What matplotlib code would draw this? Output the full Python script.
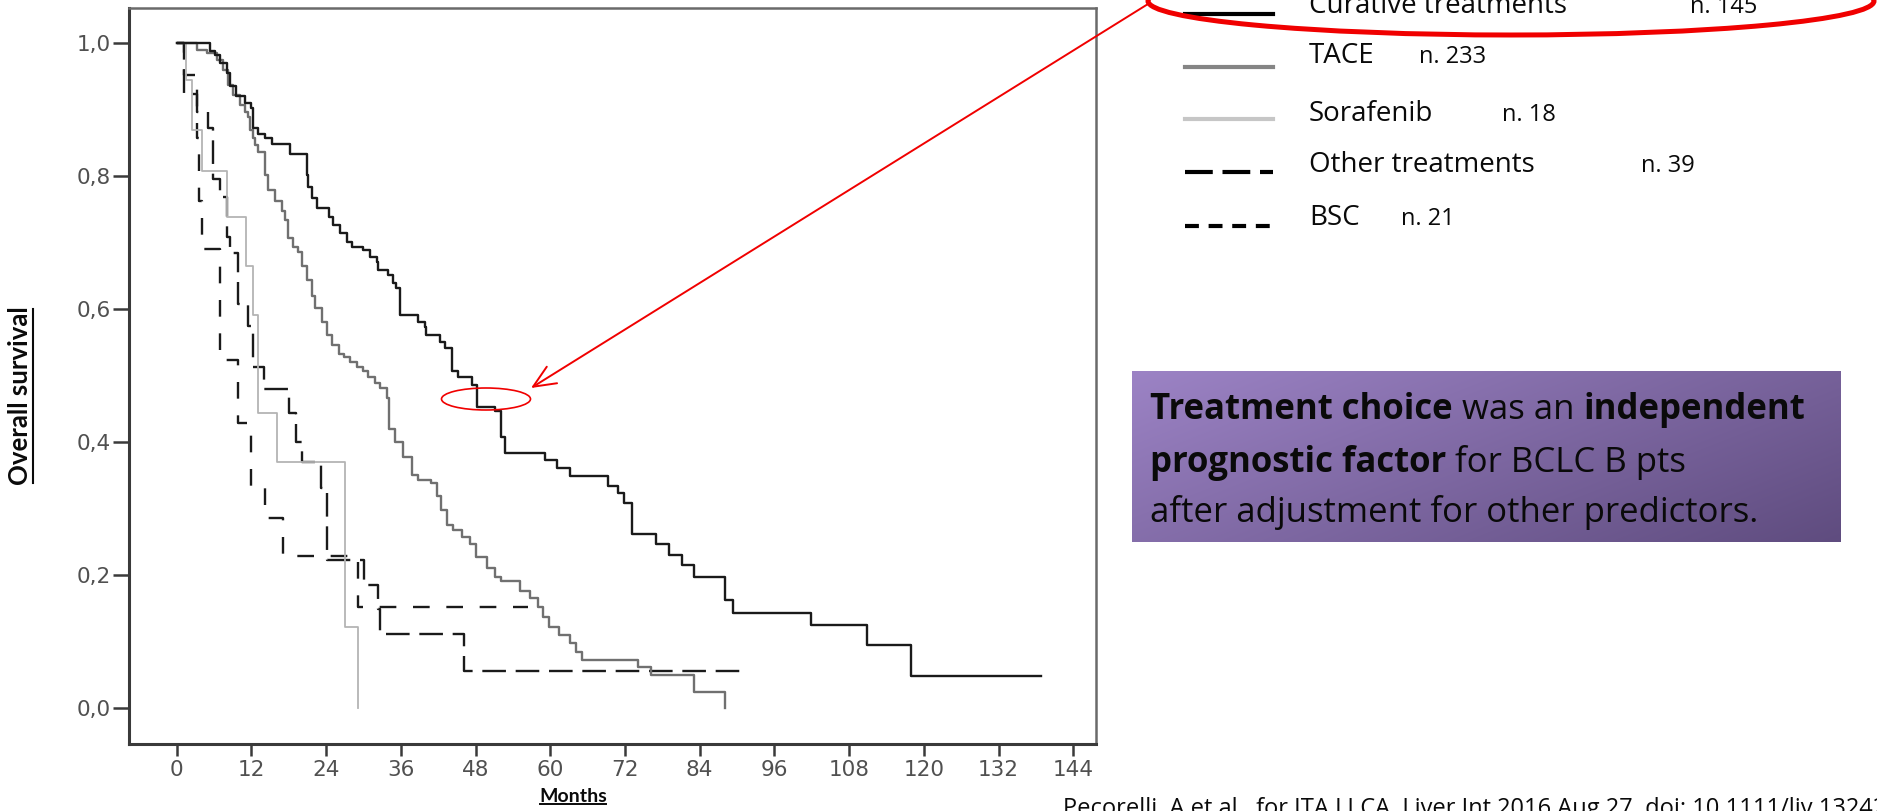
import matplotlib
matplotlib.use('Agg')
import matplotlib.pyplot as plt
import numpy as np
from matplotlib.patches import Ellipse
from matplotlib.lines import Line2D
from matplotlib.transforms import IdentityTransform

plt.rcParams['lines.scale_dashes'] = False

# ---------------- data (months, survival) ----------------
curative_t = [0, 5.4, 6.2, 7.0, 8.0, 8.6, 9.6, 11.0, 12.0, 12.3, 13.1, 14.2, 15.3, 18.2,
              20.9, 21.1, 21.7, 22.5, 24.4, 25.1, 26.2, 27.3, 28.1, 30.0, 31.0, 32.1, 32.4,
              34.0, 34.8, 35.3, 35.9, 38.8, 39.9, 40.1, 42.3, 43.1, 44.2, 45.2, 47.4, 48.2,
              51.1, 52.1, 52.8, 59.1, 61.1, 63.2, 69.2, 70.9, 71.8, 73.2, 77.0, 79.1, 81.1,
              83.1, 88.1, 89.3, 101.9, 110.9, 118.0]
curative_s = [1.0, 0.989, 0.982, 0.970, 0.955, 0.935, 0.920, 0.910, 0.902, 0.872, 0.864, 0.857,
              0.849, 0.834, 0.802, 0.784, 0.767, 0.752, 0.739, 0.727, 0.714, 0.701, 0.694,
              0.689, 0.679, 0.671, 0.659, 0.651, 0.639, 0.631, 0.591, 0.581, 0.573, 0.561,
              0.551, 0.541, 0.506, 0.498, 0.486, 0.453, 0.446, 0.408, 0.383, 0.373, 0.360,
              0.348, 0.333, 0.323, 0.308, 0.262, 0.247, 0.230, 0.215, 0.197, 0.162, 0.143,
              0.124, 0.094, 0.047]
curative_end = 138.8

tace_t = [0, 3.2, 4.8, 6.4, 7.5, 8.3, 9.1, 10.2, 11.0, 11.5, 11.8, 12.3, 12.6, 13.1, 14.2,
          14.7, 15.8, 16.9, 17.4, 17.9, 18.7, 19.5, 20.1, 20.9, 21.7, 22.2, 23.3, 24.1, 24.9,
          26.0, 26.8, 27.8, 28.9, 30.0, 30.8, 31.8, 32.7, 33.7, 34.1, 35.1, 36.4, 37.8, 38.8,
          40.8, 41.8, 42.4, 43.4, 44.4, 45.8, 47.1, 48.1, 49.8, 51.1, 52.1, 55.1, 56.7, 58.1,
          58.8, 59.8, 61.4, 63.1, 64.1, 65.1, 74.1, 76.1, 83.1, 88.1]
tace_s = [1.0, 0.990, 0.985, 0.975, 0.960, 0.937, 0.922, 0.907, 0.897, 0.889, 0.870, 0.857,
          0.847, 0.837, 0.802, 0.779, 0.762, 0.747, 0.734, 0.707, 0.694, 0.686, 0.664, 0.644,
          0.619, 0.601, 0.581, 0.561, 0.546, 0.533, 0.528, 0.521, 0.513, 0.506, 0.498, 0.488,
          0.481, 0.466, 0.420, 0.400, 0.378, 0.350, 0.343, 0.338, 0.318, 0.298, 0.275, 0.267,
          0.257, 0.247, 0.227, 0.210, 0.197, 0.190, 0.175, 0.165, 0.152, 0.137, 0.122, 0.109,
          0.097, 0.084, 0.072, 0.062, 0.049, 0.024, 0.0]

sorafenib_t = [0, 1.5, 2.5, 4.0, 8.0, 11.2, 12.3, 13.1, 16.1, 27.1, 29.1]
sorafenib_s = [1.0, 0.944, 0.869, 0.807, 0.739, 0.664, 0.591, 0.443, 0.370, 0.122, 0.0]

other_t = [0, 1.1, 3.2, 5.1, 5.9, 7.0, 8.0, 8.6, 9.9, 11.5, 12.3, 14.1, 18.1, 19.2, 20.1,
           23.1, 24.1, 30.1, 32.3, 32.7, 46.1]
other_s = [1.0, 0.923, 0.897, 0.872, 0.795, 0.769, 0.709, 0.684, 0.607, 0.575, 0.512, 0.479,
           0.443, 0.400, 0.370, 0.330, 0.222, 0.185, 0.148, 0.111, 0.055]
other_end = 91.1

bsc_t = [0, 1.1, 3.2, 3.6, 4.0, 7.0, 9.9, 12.0, 14.2, 17.1, 29.1]
bsc_s = [1.0, 0.952, 0.857, 0.762, 0.690, 0.524, 0.429, 0.333, 0.286, 0.229, 0.152]
bsc_end = 56.4

x_ticks = [0, 12, 24, 36, 48, 60, 72, 84, 96, 108, 120, 132, 144]
y_ticks = [0.0, 0.2, 0.4, 0.6, 0.8, 1.0]
y_tick_labels = ['0,0', '0,2', '0,4', '0,6', '0,8', '1,0']

legend_labels = ['Curative treatments', 'TACE', 'Sorafenib', 'Other treatments', 'BSC']
legend_n = ['n. 145', 'n. 233', 'n. 18', 'n. 39', 'n. 21']

x_label = 'Months'
y_label = 'Overall survival'
box_lines = [[('Treatment choice', 'bold'), (' was an ', 'normal'), ('independent', 'bold')],
             [('prognostic factor', 'bold'), (' for BCLC B pts', 'normal')],
             [('after adjustment for other predictors.', 'normal')]]
citation = 'Pecorelli, A et al., for ITA.LI.CA, Liver Int 2016 Aug 27. doi: 10.1111/liv.13242'

# ---------------- figure ----------------
W, H = 1877, 811
fig = plt.figure(figsize=(W / 100, H / 100), dpi=100)
fig.patch.set_facecolor('white')

ax = fig.add_axes([129 / W, 1 - 744 / H, (1096 - 129) / W, (744 - 8) / H])
ax.set_xlim(-7.66, 147.65)
ax.set_ylim(-0.0546, 1.053)

styles = {
    'cur': dict(color='#1a1a1a', lw=1.7),
    'tace': dict(color='#707070', lw=1.7),
    'sor': dict(color='#b4b4b4', lw=1.3),
    'oth': dict(color='#1a1a1a', lw=1.7, dashes=(17, 7)),
    'bsc': dict(color='#1a1a1a', lw=1.7, dashes=(12, 12)),
}

def km(t, s, end=None):
    t = list(t); s = list(s)
    if end is not None:
        t.append(end); s.append(s[-1])
    return t, s

for (t, s, e), key in [((bsc_t, bsc_s, bsc_end), 'bsc'),
                       ((other_t, other_s, other_end), 'oth'),
                       ((sorafenib_t, sorafenib_s, None), 'sor'),
                       ((tace_t, tace_s, None), 'tace'),
                       ((curative_t, curative_s, curative_end), 'cur')]:
    tt, ss = km(t, s, e)
    ax.step(tt, ss, where='post', **styles[key])

ax.set_xticks(x_ticks)
ax.set_xticklabels([str(v) for v in x_ticks])
ax.set_yticks(y_ticks)
ax.set_yticklabels(y_tick_labels)
for lab in ax.get_xticklabels() + ax.get_yticklabels():
    lab.set_family('DejaVu Sans')
ax.tick_params(axis='y', length=11.5, width=1.8, color='#3a3a3a', pad=1.5,
               labelsize=15.5, labelcolor='#505050')
ax.tick_params(axis='x', length=8.6, width=1.8, color='#3a3a3a', pad=3,
               labelsize=15.5, labelcolor='#505050')
for side in ['left', 'bottom']:
    ax.spines[side].set_linewidth(2.2)
    ax.spines[side].set_color('#3a3a3a')
for side in ['top', 'right']:
    ax.spines[side].set_linewidth(1.8)
    ax.spines[side].set_color('#6a6a6a')

# ---------------- overlay in pixel coords ----------------
ov = fig.add_axes([0, 0, 1, 1], zorder=5)
ov.axis('off')

# purple box gradient
X, Y = np.meshgrid(np.linspace(0, 1, 300), np.linspace(0, 1, 80))
f = np.clip(0.62 * X + 0.38 * Y, 0, 1)
c0 = np.array([156, 131, 197]) / 255
c1 = np.array([95, 76, 127]) / 255
img = c0 + (c1 - c0) * f[..., None]
ov.imshow(img, extent=(1132, 1841, 542, 371), aspect='auto', interpolation='bilinear',
          origin='upper', zorder=1)
ov.set_xlim(0, W)
ov.set_ylim(H, 0)

renderer = fig.canvas.get_renderer()

def text_width(s, size, weight, family):
    t = ov.text(0, 0, s, fontsize=size, fontweight=weight, family=family)
    w = t.get_window_extent(renderer).width
    t.remove()
    return w

def draw_runs(x, y, runs, size, family='Open Sans'):
    for txt, weight in runs:
        lead = len(txt) - len(txt.lstrip(' '))
        trail = len(txt) - len(txt.rstrip(' '))
        sp = text_width('x x', size, weight, family) - text_width('xx', size, weight, family)
        x += lead * sp
        core = txt.strip(' ')
        t = ov.text(x, y, core, fontsize=size, fontweight=weight, family=family,
                    va='baseline', ha='left', color='#0a0a0a', zorder=3)
        x += t.get_window_extent(renderer).width + trail * sp

box_baselines = [419, 472, 522]
for yb, runs in zip(box_baselines, box_lines):
    draw_runs(1150, yb, runs, 25)

# legend
leg_line_y = [14, 67, 119, 172, 226]
leg_text_base = [13, 63, 121, 172, 225]
leg_n_x = [1690, 1419, 1502, 1641, 1401]
leg_styles = [dict(color='black', lw=3.0),
              dict(color='#858585', lw=3.0),
              dict(color='#c6c6c6', lw=3.0),
              dict(color='black', lw=3.0, dashes=(20, 7)),
              dict(color='black', lw=3.0, dashes=(10, 7))]
for i, lab in enumerate(legend_labels):
    ov.add_line(Line2D([1185, 1273], [leg_line_y[i]] * 2, **leg_styles[i], zorder=3))
    ov.text(1309, leg_text_base[i], lab, fontsize=20, family='Open Sans', va='baseline',
            ha='left', color='#0a0a0a', zorder=3)
    ov.text(leg_n_x[i], leg_text_base[i], legend_n[i], fontsize=17, family='Open Sans',
            va='baseline', ha='left', color='#0a0a0a', zorder=3)

# red annotations
ov.add_patch(Ellipse((1511, 1), 726, 68, fill=False, ec='#f00000', lw=3.6, zorder=4))
ov.add_patch(Ellipse((486, 399), 89, 22, fill=False, ec='#f00000', lw=1.2, zorder=4))
ov.annotate('', xy=(531, 388), xytext=(1148, 4),
            arrowprops=dict(arrowstyle='->,head_length=0.8,head_width=0.35', color='#f00000',
                            lw=1.4, shrinkA=0, shrinkB=0, mutation_scale=20), zorder=4)

# axis labels (underlined)
yl = ov.text(20, 396, y_label, fontsize=18.5, fontweight='bold', family='Lato', rotation=90,
             ha='center', va='center', color='#0a0a0a')
xl = ov.text(573, 796, x_label, fontsize=14, fontweight='bold', family='Lato',
             ha='center', va='center', color='#0a0a0a')
bb = yl.get_window_extent(renderer)
fig.add_artist(Line2D([bb.x1 + 1, bb.x1 + 1], [bb.y0 + 2, bb.y1 - 2], color='#0a0a0a', lw=1.5,
                      transform=IdentityTransform()))
bb = xl.get_window_extent(renderer)
fig.add_artist(Line2D([bb.x0 + 1, bb.x1 - 1], [bb.y0 + 1, bb.y0 + 1], color='#0a0a0a', lw=1.4,
                      transform=IdentityTransform()))

# citation (partly cut at the bottom edge, as in the source slide)
ov.text(1063, 797, citation, fontsize=17, family='Open Sans', va='top', ha='left',
        color='#0a0a0a')

fig.savefig('out.png', dpi=100)
